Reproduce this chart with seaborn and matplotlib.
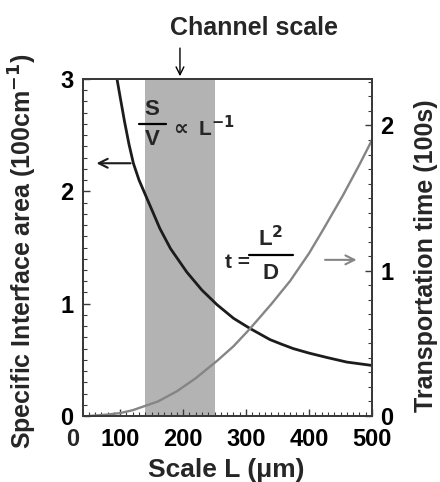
import matplotlib
matplotlib.use("Agg")
import matplotlib.pyplot as plt
import seaborn as sns
import pandas as pd
from matplotlib.ticker import MultipleLocator

# ---- data ----
sv_L = [95, 100, 107, 114, 121, 130, 140, 150, 163, 180, 206, 230, 254, 280, 306, 322, 338, 356, 375, 400, 429, 460, 500]
sv_val = [3.0, 2.84, 2.62, 2.42, 2.25, 2.10, 1.97, 1.84, 1.67, 1.49, 1.28, 1.12, 0.99, 0.87, 0.78, 0.73, 0.68, 0.64, 0.60, 0.56, 0.52, 0.48, 0.45]

t_L = [50, 80, 100, 120, 140, 160, 190, 220, 254, 280, 306, 340, 370, 400, 422, 454, 480, 500]
t_val = [0.0, 0.01, 0.02, 0.04, 0.07, 0.10, 0.17, 0.26, 0.38, 0.48, 0.60, 0.77, 0.93, 1.12, 1.28, 1.52, 1.73, 1.90]

channel_span = [140, 250]
x_ticks = [100, 200, 300, 400, 500]
left_ticks = [0, 1, 2, 3]
right_ticks = [0, 1, 2]

spine_c = "#3a3a3a"
sns.set_theme(style="ticks", rc={
    "xtick.direction": "in", "ytick.direction": "in",
    "xtick.major.size": 5, "ytick.major.size": 5,
    "xtick.minor.size": 3, "ytick.minor.size": 3,
    "xtick.minor.visible": True, "ytick.minor.visible": True,
})
plt.rcParams["font.family"] = ["Liberation Sans", "DejaVu Sans"]
plt.rcParams["font.weight"] = "bold"
plt.rcParams["mathtext.default"] = "bf"

fig = plt.figure(figsize=(4.4, 4.82), dpi=100)
ax = fig.add_axes([83 / 440, 66 / 482, 289 / 440, 337 / 482])
ax2 = ax.twinx()

ax.axvspan(channel_span[0], channel_span[1], color="#b3b3b3", lw=0, zorder=0)

df_sv = pd.DataFrame({"L": sv_L, "v": sv_val})
df_t = pd.DataFrame({"L": t_L, "v": t_val})
sns.lineplot(data=df_sv, x="L", y="v", ax=ax, color="#1c1c1c", lw=2.0)
sns.lineplot(data=df_t, x="L", y="v", ax=ax2, color="#858585", lw=1.7)

ax.set_xlim(41, 500)
ax.set_ylim(0, 3)
ax2.set_ylim(0, 2.32)

ax.set_xticks(x_ticks)
ax.set_yticks(left_ticks)
ax2.set_yticks(right_ticks)
ax.xaxis.set_minor_locator(MultipleLocator(10))
ax.yaxis.set_minor_locator(MultipleLocator(0.1))
ax2.yaxis.set_minor_locator(MultipleLocator(0.1))

for a in (ax, ax2):
    for s in a.spines.values():
        s.set_visible(True)
        s.set_color(spine_c)
        s.set_linewidth(1.4)
ax.tick_params(axis="x", which="both", direction="in", bottom=True, top=False, color=spine_c,
               labelcolor="black", labelsize=17, pad=9)
ax.tick_params(axis="y", which="both", direction="in", left=True, right=False, color=spine_c,
               labelcolor="black", labelsize=17, pad=7)
ax2.tick_params(axis="y", which="both", direction="in", right=True, left=False, color=spine_c,
                labelcolor="black", labelsize=17, pad=6)
ax2.tick_params(axis="x", which="both", bottom=False, top=False, labelbottom=False)
for a in (ax, ax2):
    a.tick_params(which="major", length=5, width=1.0)
    a.tick_params(which="minor", length=3, width=0.8)
for lab in ax.get_xticklabels() + ax.get_yticklabels() + ax2.get_yticklabels():
    lab.set_fontweight("bold")

# "0" label on the x axis, drawn left of the frame as in the reference
ax.annotate("0", xy=(25.4, 0), xycoords=("data", "axes fraction"), xytext=(0, -9),
            textcoords="offset points", ha="center", va="top", fontsize=17,
            fontweight="bold", annotation_clip=False)

ax.set_xlabel("Scale L (\u03bcm)", fontsize=19, fontweight="bold")
ax.set_ylabel("Specific Interface area (100cm$^{-1}$)", fontsize=18, fontweight="bold")
ax2.set_ylabel("Transportation time (100s)", fontsize=18, fontweight="bold")
ax.yaxis.set_label_coords(-0.152, 0.49)
ax2.yaxis.set_label_coords(1.145, 0.475)
ax.xaxis.set_label_coords(0.495, -0.125)

# Channel scale annotation
ax.annotate("", xy=(195, 3.0), xytext=(195, 3.3), annotation_clip=False,
            arrowprops=dict(arrowstyle="->", color="black", lw=1.0, mutation_scale=14))
ax.text(313, 3.455, "Channel scale", ha="center", va="center", fontsize=18,
        fontweight="bold", clip_on=False)

# S/V ~ L^-1
ax.text(151, 2.73, "S", ha="center", va="center", fontsize=16, fontweight="bold")
ax.plot([130, 173], [2.60, 2.60], color="black", lw=1.6)
ax.text(151, 2.46, "V", ha="center", va="center", fontsize=16, fontweight="bold")
ax.text(178, 2.57, "$\\propto$ L$^{-1}$", ha="left", va="center", fontsize=15,
        fontweight="bold")
ax.annotate("", xy=(58, 2.25), xytext=(121, 2.25),
            arrowprops=dict(arrowstyle="->", color="#1c1c1c", lw=1.5, mutation_scale=16))

# t = L^2 / D
ax.text(287, 1.37, "t =", ha="center", va="center", fontsize=15, fontweight="bold")
ax.text(339, 1.58, "L$^{2}$", ha="center", va="center", fontsize=16, fontweight="bold")
ax.plot([304, 374], [1.43, 1.43], color="black", lw=1.6)
ax.text(339, 1.27, "D", ha="center", va="center", fontsize=16, fontweight="bold")
ax.annotate("", xy=(480, 1.39), xytext=(421, 1.39),
            arrowprops=dict(arrowstyle="->", color="#858585", lw=1.5, mutation_scale=16))

fig.savefig("out.png", dpi=100)
